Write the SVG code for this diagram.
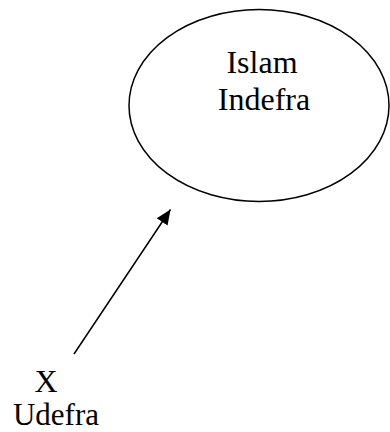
<svg xmlns="http://www.w3.org/2000/svg" width="390" height="432" viewBox="0 0 390 432">
<defs>
<style>
.lbl{font-family:"Liberation Serif","Times New Roman",serif;font-size:32px;fill:#000;text-anchor:middle}
.edge{stroke:#000;stroke-width:1.5;fill:none}
</style>
<marker id="arr" markerUnits="userSpaceOnUse" markerWidth="16" markerHeight="16" viewBox="0 0 16 16" refX="15" refY="8" orient="auto">
<path d="M0,1.5 L15,8 L0,14.5 Z" fill="#000"/>
</marker>
</defs>
<rect width="390" height="432" fill="#fff"/>
<g id="islam">
<ellipse cx="259" cy="105.5" rx="130" ry="96" fill="none" stroke="#000" stroke-width="1.5"/>
<text class="lbl" x="262" y="73">Islam</text>
<text class="lbl" x="264" y="110">Indefra</text>
</g>
<g id="x">
<text class="lbl" x="46" y="392">X</text>
<text class="lbl" x="56" y="425" style="font-size:31px">Udefra</text>
</g>
<g id="connectors">
<line class="edge" x1="74" y1="354" x2="170.5" y2="209.5" marker-end="url(#arr)"/>
</g>
</svg>
